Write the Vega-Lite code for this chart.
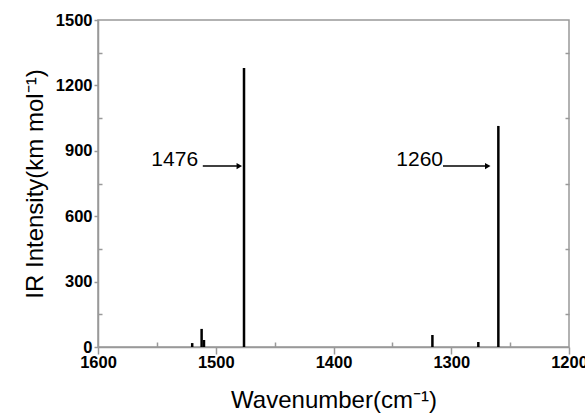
{
  "$schema": "https://vega.github.io/schema/vega-lite/v6.json",
  "width": 471,
  "height": 327,
  "autosize": {"type": "none"},
  "padding": {"left": 98, "top": 20, "right": 16, "bottom": 69},
  "background": "white",
  "config": {
    "font": "Liberation Sans",
    "view": {"stroke": "#999999", "strokeWidth": 1.5},
    "axis": {
      "grid": false,
      "domainColor": "#999999",
      "domainWidth": 1.5,
      "tickColor": "#999999",
      "tickWidth": 1.5,
      "labelFont": "Liberation Sans",
      "labelFontSize": 16.5,
      "labelFontWeight": "bold",
      "labelColor": "black",
      "labelFlush": false,
      "labelOverlap": false,
      "format": "d",
      "titleFont": "Liberation Sans",
      "titleFontSize": 24,
      "titleFontWeight": "normal",
      "titleColor": "black"
    }
  },
  "datasets": {
    "peaks": [
      {"wavenumber": 1520, "intensity": 18},
      {"wavenumber": 1512, "intensity": 83},
      {"wavenumber": 1510, "intensity": 32},
      {"wavenumber": 1476, "intensity": 1280},
      {"wavenumber": 1316, "intensity": 55},
      {"wavenumber": 1277, "intensity": 23},
      {"wavenumber": 1260, "intensity": 1014}
    ],
    "notes": [
      {"label": "1476", "textX": 1515, "textY": 856, "arrowFrom": 1511, "arrowTo": 1482, "tip": 1480, "arrowY": 830},
      {"label": "1260", "textX": 1307, "textY": 856, "arrowFrom": 1307, "arrowTo": 1271, "tip": 1269, "arrowY": 830}
    ]
  },
  "resolve": {"axis": {"x": "independent", "y": "independent"}},
  "layer": [
    {
      "data": {"name": "peaks"},
      "mark": {"type": "rule", "color": "black", "strokeWidth": 2.5},
      "encoding": {
        "x": {
          "field": "wavenumber",
          "type": "quantitative",
          "scale": {"domain": [1600, 1200], "nice": false, "zero": false},
          "axis": {
            "orient": "bottom",
            "values": [1600, 1500, 1400, 1300, 1200],
            "tickSize": 7,
            "labelPadding": 0,
            "title": "Wavenumber(cm⁻¹)",
            "titlePadding": 18
          }
        },
        "y": {
          "field": "intensity",
          "type": "quantitative",
          "scale": {"domain": [0, 1500], "nice": false},
          "axis": {
            "orient": "left",
            "values": [0, 300, 600, 900, 1200, 1500],
            "tickSize": 4,
            "labelPadding": 2,
            "title": "IR Intensity(km mol⁻¹)",
            "titlePadding": 8
          }
        },
        "y2": {"datum": 0}
      }
    },
    {
      "data": {"name": "notes"},
      "mark": {"type": "rule", "color": "black", "strokeWidth": 1.5},
      "encoding": {
        "x": {
          "field": "arrowFrom",
          "type": "quantitative",
          "axis": {
            "orient": "bottom",
            "values": [1550, 1450, 1350, 1250],
            "offset": -5,
            "tickSize": 5,
            "labels": false,
            "domain": false,
            "title": null
          }
        },
        "x2": {"field": "arrowTo"},
        "y": {
          "field": "arrowY",
          "type": "quantitative",
          "axis": {
            "orient": "left",
            "values": [150, 450, 750, 1050, 1350],
            "offset": -4,
            "tickSize": 4,
            "labels": false,
            "domain": false,
            "title": null
          }
        }
      }
    },
    {
      "data": {"name": "notes"},
      "mark": {"type": "point", "shape": "triangle-right", "filled": true, "color": "black", "size": 40, "opacity": 1},
      "encoding": {
        "x": {"field": "tip", "type": "quantitative", "axis": null},
        "y": {
          "field": "arrowY",
          "type": "quantitative",
          "axis": {
            "orient": "right",
            "values": [150, 450, 750, 1050, 1350],
            "offset": -4,
            "tickSize": 4,
            "labels": false,
            "domain": false,
            "title": null
          }
        }
      }
    },
    {
      "data": {"name": "notes"},
      "mark": {"type": "text", "align": "right", "baseline": "middle", "fontSize": 21, "font": "Liberation Sans", "color": "black"},
      "encoding": {
        "x": {"field": "textX", "type": "quantitative", "axis": null},
        "y": {"field": "textY", "type": "quantitative", "axis": null},
        "text": {"field": "label"}
      }
    }
  ]
}
